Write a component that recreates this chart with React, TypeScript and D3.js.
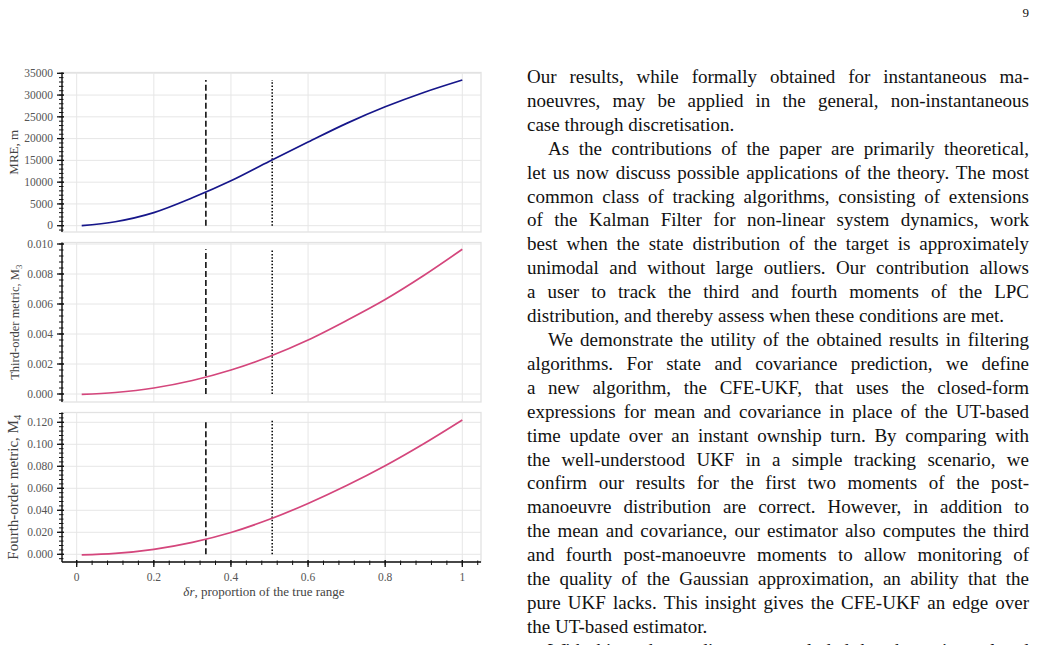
import React, { useEffect, useRef } from 'react';
import * as d3 from 'd3';

// proportion of the true range (x)
const deltaR = [0.013, 0.1, 0.2, 0.3, 0.4, 0.5, 0.6, 0.7, 0.8, 0.9, 1.0];
const mreValues = [0, 900, 3000, 6400, 10300, 14800, 19200, 23500, 27300, 30600, 33460];
const m3Values = [-0.00003, 0.0001, 0.0004, 0.0009, 0.0016, 0.0025, 0.0036, 0.0049, 0.0063, 0.0079, 0.00965];
const m4Values = [-0.0005, 0.0008, 0.0045, 0.0108, 0.0198, 0.0318, 0.0462, 0.0625, 0.0805, 0.1005, 0.1221];

const dashedAt = 0.335;
const dottedAt = 0.507;

const xTicks = [0, 0.2, 0.4, 0.6, 0.8, 1];
const mreTicks = [0, 5000, 10000, 15000, 20000, 25000, 30000, 35000];
const m3Ticks = [0, 0.002, 0.004, 0.006, 0.008, 0.01];
const m4Ticks = [0, 0.02, 0.04, 0.06, 0.08, 0.1, 0.12];

const pageNumber = '9';
const paragraphLines = [
  { t: 'Our results, while formally obtained for instantaneous ma-', j: true },
  { t: 'noeuvres, may be applied in the general, non-instantaneous', j: true },
  { t: 'case through discretisation.', j: false },
  { t: 'As the contributions of the paper are primarily theoretical,', j: true, indent: true },
  { t: 'let us now discuss possible applications of the theory. The most', j: true },
  { t: 'common class of tracking algorithms, consisting of extensions', j: true },
  { t: 'of the Kalman Filter for non-linear system dynamics, work', j: true },
  { t: 'best when the state distribution of the target is approximately', j: true },
  { t: 'unimodal and without large outliers. Our contribution allows', j: true },
  { t: 'a user to track the third and fourth moments of the LPC', j: true },
  { t: 'distribution, and thereby assess when these conditions are met.', j: false },
  { t: 'We demonstrate the utility of the obtained results in filtering', j: true, indent: true },
  { t: 'algorithms. For state and covariance prediction, we define', j: true },
  { t: 'a new algorithm, the CFE-UKF, that uses the closed-form', j: true },
  { t: 'expressions for mean and covariance in place of the UT-based', j: true },
  { t: 'time update over an instant ownship turn. By comparing with', j: true },
  { t: 'the well-understood UKF in a simple tracking scenario, we', j: true },
  { t: 'confirm our results for the first two moments of the post-', j: true },
  { t: 'manoeuvre distribution are correct. However, in addition to', j: true },
  { t: 'the mean and covariance, our estimator also computes the third', j: true },
  { t: 'and fourth post-manoeuvre moments to allow monitoring of', j: true },
  { t: 'the quality of the Gaussian approximation, an ability that the', j: true },
  { t: 'pure UKF lacks. This insight gives the CFE-UKF an edge over', j: true },
  { t: 'the UT-based estimator.', j: false },
  { t: 'With this understanding, we concluded that the main goal and', j: true, indent: true },
];

const W = 1038, H = 645;
const serif = '"Liberation Serif", "Times New Roman", serif';

export default function App() {
  const ref = useRef<SVGSVGElement>(null);

  useEffect(() => {
    document.body.style.margin = '0';
    const svg = d3.select(ref.current);
    svg.selectAll('*').remove();

    const boxLeft = 62, boxRight = 481;
    const x = d3.scaleLinear().domain([0, 1]).range([76.7, 462.3]);

    const panels = [
      { values: mreValues, ticks: mreTicks, top: 72.5, bottom: 232, y0: 225.7, y1: 73.3, v1: 35000,
        minor: 1000, fmt: d3.format('d'), color: '#16168a', label: 'MRE, m', sub: '', size: 13, lx: 13 },
      { values: m3Values, ticks: m3Ticks, top: 242.5, bottom: 402, y0: 394, y1: 244, v1: 0.01,
        minor: 0.0004, fmt: d3.format('.3f'), color: '#d4467c', label: 'Third-order metric, M', sub: '3', size: 12.5, lx: 15 },
      { values: m4Values, ticks: m4Ticks, top: 412.5, bottom: 562, y0: 554.3, y1: 422.3, v1: 0.12,
        minor: 0.004, fmt: d3.format('.3f'), color: '#d4467c', label: 'Fourth-order metric, M', sub: '4', size: 15, lx: 13 },
    ];

    panels.forEach(p => {
      const y = d3.scaleLinear().domain([0, p.v1]).range([p.y0, p.y1]);
      const g = svg.append('g');

      // box + grid
      g.append('rect')
        .attr('x', boxLeft).attr('y', p.top)
        .attr('width', boxRight - boxLeft).attr('height', p.bottom - p.top)
        .attr('fill', 'none').attr('stroke', '#e2e2e2').attr('stroke-width', 1.3);
      g.selectAll('.hg').data(p.ticks).enter().append('line')
        .attr('x1', boxLeft).attr('x2', boxRight)
        .attr('y1', d => y(d)).attr('y2', d => y(d))
        .attr('stroke', '#e6e6e6').attr('stroke-width', 1);
      g.selectAll('.vg').data(xTicks).enter().append('line')
        .attr('x1', d => x(d)).attr('x2', d => x(d))
        .attr('y1', p.top).attr('y2', p.bottom)
        .attr('stroke', '#e6e6e6').attr('stroke-width', 1);

      // reference lines up to the curve maximum
      const vmax = d3.max(p.values) as number;
      g.append('line')
        .attr('x1', x(dashedAt)).attr('x2', x(dashedAt))
        .attr('y1', y(0)).attr('y2', y(vmax))
        .attr('stroke', '#000').attr('stroke-width', 1.5).attr('stroke-dasharray', '6,3');
      g.append('line')
        .attr('x1', x(dottedAt)).attr('x2', x(dottedAt))
        .attr('y1', y(0)).attr('y2', y(vmax))
        .attr('stroke', '#000').attr('stroke-width', 1.5).attr('stroke-dasharray', '1.5,1.8');

      // curve
      const pts = deltaR.map((d, i) => [d, p.values[i]] as [number, number]);
      g.append('path')
        .datum(pts)
        .attr('d', d3.line<[number, number]>().x(d => x(d[0])).y(d => y(d[1])).curve(d3.curveCatmullRom))
        .attr('fill', 'none').attr('stroke', p.color).attr('stroke-width', 1.7);

      // left spine with ticks
      g.append('line')
        .attr('x1', boxLeft).attr('x2', boxLeft).attr('y1', p.top).attr('y2', p.bottom)
        .attr('stroke', '#111').attr('stroke-width', 1.4);
      const lo = y.invert(p.bottom), hi = y.invert(p.top);
      const minors = d3.range(Math.ceil(lo / p.minor) * p.minor, hi, p.minor);
      g.selectAll('.mt').data(minors).enter().append('line')
        .attr('x1', boxLeft - 3).attr('x2', boxLeft + 1.5)
        .attr('y1', d => y(d)).attr('y2', d => y(d))
        .attr('stroke', '#111').attr('stroke-width', 1);
      g.selectAll('.Mt').data(p.ticks).enter().append('line')
        .attr('x1', boxLeft - 5).attr('x2', boxLeft + 2)
        .attr('y1', d => y(d)).attr('y2', d => y(d))
        .attr('stroke', '#111').attr('stroke-width', 1.3);
      g.selectAll('.tl').data(p.ticks).enter().append('text')
        .attr('x', 53).attr('y', d => y(d)).attr('dy', '0.33em')
        .attr('text-anchor', 'end')
        .style('font-family', serif).style('font-size', '11.5px').attr('fill', '#555')
        .text(d => p.fmt(d));

      // y label
      const cy = (p.top + p.bottom) / 2;
      const lab = g.append('text')
        .attr('transform', `translate(${p.lx},${cy}) rotate(-90)`)
        .attr('text-anchor', 'middle').attr('dy', '0.35em')
        .style('font-family', serif).style('font-size', p.size + 'px').attr('fill', '#444');
      lab.append('tspan').text(p.label);
      if (p.sub) lab.append('tspan').attr('dy', '0.3em').style('font-size', (p.size * 0.7) + 'px').text(p.sub);
    });

    // x axis
    const axY = 562;
    const gx = svg.append('g');
    gx.append('line').attr('x1', boxLeft).attr('x2', boxRight).attr('y1', axY).attr('y2', axY)
      .attr('stroke', '#111').attr('stroke-width', 1.4);
    gx.selectAll('.xm').data(d3.range(0, 1.05, 0.04)).enter().append('line')
      .attr('x1', d => x(d)).attr('x2', d => x(d)).attr('y1', axY - 1.5).attr('y2', axY + 3)
      .attr('stroke', '#111').attr('stroke-width', 1);
    gx.selectAll('.xM').data(xTicks).enter().append('line')
      .attr('x1', d => x(d)).attr('x2', d => x(d)).attr('y1', axY - 2).attr('y2', axY + 5)
      .attr('stroke', '#111').attr('stroke-width', 1.3);
    gx.selectAll('.xl').data(xTicks).enter().append('text')
      .attr('x', d => x(d)).attr('y', 581).attr('text-anchor', 'middle')
      .style('font-family', serif).style('font-size', '11.5px').attr('fill', '#555')
      .text(d => d3.format('~g')(d));
    const xt = gx.append('text').attr('x', 264).attr('y', 596).attr('text-anchor', 'middle')
      .style('font-family', serif).style('font-size', '13px').attr('fill', '#444');
    xt.append('tspan').style('font-style', 'italic').text('δr');
    xt.append('tspan').text(', proportion of the true range');

    // page text
    const tg = svg.append('g').style('font-family', serif).style('font-size', '19px').attr('fill', '#111');
    tg.append('text').attr('x', 1029).attr('y', 17).attr('text-anchor', 'end')
      .style('font-size', '13px').text(pageNumber);
    const left = 527, right = 1029, indent = 21, lead = 23.91;
    paragraphLines.forEach((ln, i) => {
      const by = 83 + i * lead;
      const x0 = left + (ln.indent ? indent : 0);
      if (!ln.j) {
        tg.append('text').attr('x', x0).attr('y', by).text(ln.t);
        return;
      }
      const words = ln.t.split(' ');
      const nodes = words.map(w => tg.append('text').attr('y', by).text(w));
      const widths = nodes.map(n => (n.node() as SVGTextElement).getComputedTextLength());
      const total = d3.sum(widths);
      const gap = (right - x0 - total) / (words.length - 1);
      let cx = x0;
      nodes.forEach((n, k) => { n.attr('x', cx); cx += widths[k] + gap; });
    });
  }, []);

  return <svg ref={ref} width={W} height={H} style={{ display: 'block', background: '#fff' }} />;
}
